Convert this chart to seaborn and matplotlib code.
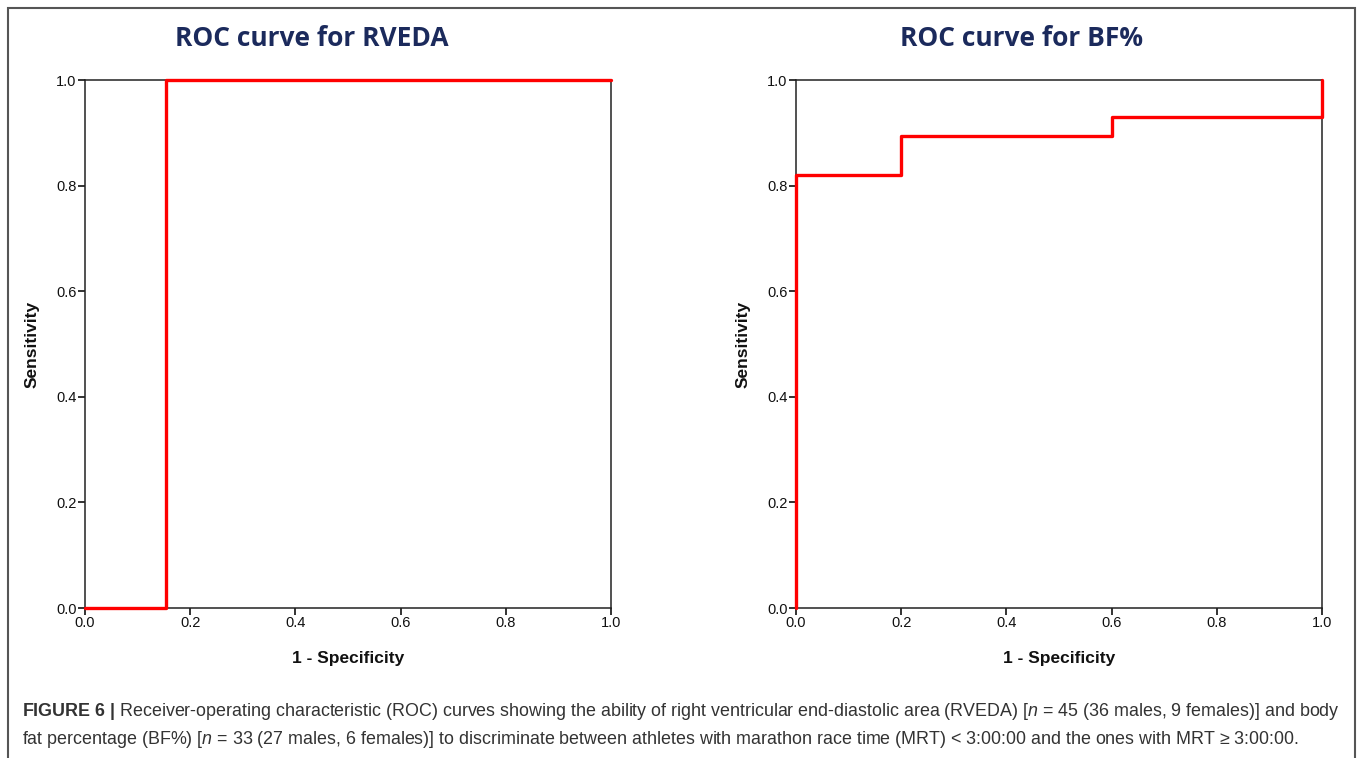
import matplotlib
matplotlib.use("Agg")
import matplotlib.pyplot as plt
import seaborn as sns
from matplotlib.patches import Rectangle

# ROC points (1 - specificity, sensitivity)
rveda_fpr = [0.0, 0.154, 0.154, 1.0]
rveda_tpr = [0.0, 0.0, 1.0, 1.0]

bf_fpr = [0.0, 0.0, 0.2, 0.2, 0.6, 0.6, 1.0, 1.0]
bf_tpr = [0.0, 0.821, 0.821, 0.893, 0.893, 0.929, 0.929, 1.0]

titles = ["ROC curve for RVEDA", "ROC curve for BF%"]
ticks = [0.0, 0.2, 0.4, 0.6, 0.8, 1.0]

sns.set_style("white")
plt.rcParams['font.family'] = ['Liberation Sans Narrow', 'Liberation Sans', 'DejaVu Sans']
plt.rcParams['mathtext.fontset'] = 'custom'
plt.rcParams['mathtext.rm'] = 'Liberation Sans'
plt.rcParams['mathtext.it'] = 'Liberation Sans:italic'
plt.rcParams['mathtext.bf'] = 'Liberation Sans:bold'

fig = plt.figure(figsize=(13.58, 7.58), dpi=100)

W, H = 1358, 758
ax_boxes = [(85, 80, 611, 608), (796, 80, 1322, 608)]
title_x = [312, 1022]
series = [(rveda_fpr, rveda_tpr), (bf_fpr, bf_tpr)]

for box, (fx, fy), title, tx in zip(ax_boxes, series, titles, title_x):
    x0, y0, x1, y1 = box
    ax = fig.add_axes([x0 / W, 1 - y1 / H, (x1 - x0) / W, (y1 - y0) / H])
    sns.lineplot(x=fx, y=fy, ax=ax, sort=False, estimator=None,
                 color='#ff0000', linewidth=2.4, clip_on=False, zorder=5)
    ax.set_xlim(0, 1)
    ax.set_ylim(0, 1)
    ax.set_xticks(ticks)
    ax.set_yticks(ticks)
    ax.set_xticklabels([f"{t:.1f}" for t in ticks])
    ax.set_yticklabels([f"{t:.1f}" for t in ticks])
    ax.tick_params(axis='both', direction='out', length=5, width=1.2,
                   colors='#111111', labelsize=10.5, pad=1, left=True, bottom=True)
    for sp in ax.spines.values():
        sp.set_color('#222222')
        sp.set_linewidth(1.1)
        sp.set_visible(True)
    ax.set_xlabel("1 - Specificity", fontsize=12.5, fontweight='bold',
                  family=['Liberation Sans', 'DejaVu Sans'], labelpad=15, color='#111111')
    ax.set_ylabel("Sensitivity", fontsize=12.5, fontweight='bold',
                  family=['Liberation Sans', 'DejaVu Sans'], labelpad=12, color='#111111')
    fig.text(tx / W, 1 - 38 / H, title, ha='center', va='center',
             fontsize=19, fontweight='bold', color='#1b2a5c',
             family=['Open Sans', 'Liberation Sans'])

# outer frame
fig.patches.append(Rectangle((8 / W, -0.05), (1355 - 8) / W, 1 - 8 / H + 0.05,
                             transform=fig.transFigure, fill=False,
                             edgecolor='#555555', linewidth=1.5))

cap_font = ['Liberation Sans', 'DejaVu Sans']
line1 = (r"$\mathbf{FIGURE\ 6\ |}$ Receiver-operating characteristic (ROC) curves showing the ability of "
         r"right ventricular end-diastolic area (RVEDA) [$\mathit{n}$ = 45 (36 males, 9 females)] and body")
line2 = (r"fat percentage (BF%) [$\mathit{n}$ = 33 (27 males, 6 females)] to discriminate between athletes "
         r"with marathon race time (MRT) < 3:00:00 and the ones with MRT ≥ 3:00:00.")
fig.text(22 / W, 1 - 712 / H, line1, ha='left', va='center', fontsize=12.9,
         color='#333333', family=cap_font)
fig.text(22 / W, 1 - 740 / H, line2, ha='left', va='center', fontsize=12.9,
         color='#333333', family=cap_font)

fig.savefig("out.png", dpi=100)
